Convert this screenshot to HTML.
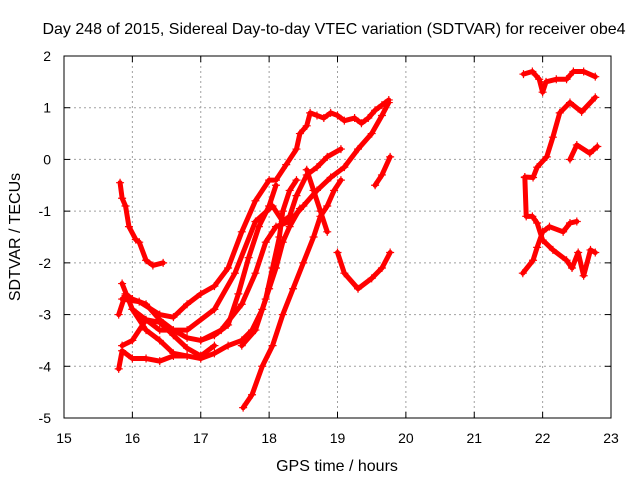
<!DOCTYPE html>
<html><head><meta charset="utf-8"><style>
body{margin:0;background:#fff;}
svg text{font-family:"Liberation Sans",sans-serif;font-size:14px;fill:#000;}
svg text.big{font-size:16px;}
</style></head><body>
<svg id="chart" width="640" height="480">
<rect width="640" height="480" fill="#fff"/>
<text class="big" x="334" y="34" text-anchor="middle">Day 248 of 2015, Sidereal Day-to-day VTEC variation (SDTVAR) for receiver obe4</text>
<text class="big" x="337" y="471" text-anchor="middle">GPS time / hours</text>
<text class="big" transform="translate(20,237) rotate(-90)" text-anchor="middle">SDTVAR / TECUs</text>
<g id="grid"></g><g id="ticks"></g><g id="marks"></g>
<rect x="64" y="56" width="547" height="362" fill="none" stroke="#000" stroke-width="1"/>
</svg>
<script>
const xTicks=[15,16,17,18,19,20,21,22,23];
const yTicks=[2,1,0,-1,-2,-3,-4,-5];
const t1=[[15.82,-0.45],[15.85,-0.75],[15.9,-0.9],[15.95,-1.3],[16.05,-1.55],[16.1,-1.6],[16.2,-1.95],[16.3,-2.05],[16.45,-2.0]];
const t2=[[15.8,-4.05],[15.85,-3.7],[16.0,-3.85],[16.2,-3.85],[16.4,-3.9],[16.6,-3.8],[16.8,-3.8],[17.0,-3.85],[17.2,-3.75],[17.4,-3.6],[17.6,-3.5],[17.75,-3.3],[17.9,-2.9],[18.0,-2.5],[18.1,-2.1],[18.2,-1.6],[18.3,-1.3],[18.45,-0.95]];
const u1=[[15.85,-2.7],[16.1,-2.75],[16.4,-3.0],[16.6,-3.05],[16.8,-2.8],[17.0,-2.6],[17.2,-2.45],[17.4,-2.1],[17.6,-1.4],[17.8,-0.8],[18.0,-0.4],[18.1,-0.4],[18.25,-0.1],[18.4,0.2],[18.45,0.5],[18.55,0.65],[18.6,0.9],[18.7,0.85],[18.8,0.8],[18.9,0.9],[19.0,0.85],[19.1,0.75],[19.25,0.8],[19.35,0.7],[19.45,0.8],[19.55,0.95],[19.65,1.05],[19.75,1.15]];
const u2=[[16.0,-2.9],[16.4,-3.3],[16.8,-3.3],[17.2,-2.9],[17.5,-2.2],[17.8,-1.2],[18.05,-0.9],[18.2,-1.2],[18.3,-1.1],[18.4,-0.7],[18.55,-0.3],[18.7,-0.15],[18.85,0.05],[19.05,0.2]];
const u3=[[17.0,-3.5],[17.3,-3.3],[17.6,-2.8],[17.8,-2.2],[17.95,-1.6],[18.1,-1.3],[18.3,-1.2],[18.5,-0.9],[18.7,-0.6],[18.9,-0.35],[19.1,-0.15],[19.3,0.2],[19.5,0.5],[19.65,0.85],[19.75,1.1]];
const s1=[[17.62,-4.8],[17.75,-4.55],[17.9,-4.0],[18.05,-3.6],[18.2,-3.0],[18.35,-2.5],[18.5,-2.0],[18.65,-1.5],[18.75,-1.1],[18.85,-0.9],[18.95,-0.6],[19.05,-0.4]];
const s2=[[17.6,-3.6],[17.8,-3.3],[17.95,-2.7],[18.05,-2.1],[18.15,-1.5],[18.2,-1.0],[18.3,-0.6],[18.4,-0.4]];
const d1=[[18.55,-0.2],[18.65,-0.6],[18.75,-1.0],[18.85,-1.4]];
const p1=[[19.0,-1.8],[19.1,-2.2],[19.3,-2.5],[19.5,-2.3],[19.65,-2.1],[19.77,-1.8]];
const p2=[[19.55,-0.5],[19.65,-0.3],[19.77,0.05]];
const l1=[[15.8,-3.0],[15.9,-2.6],[16.0,-2.7],[16.2,-2.8],[16.4,-3.1],[16.6,-3.3],[16.8,-3.45],[17.0,-3.5],[17.2,-3.4],[17.4,-3.2],[17.55,-2.6],[17.7,-1.9],[17.85,-1.3],[18.0,-0.9],[18.1,-0.5]];
const l2=[[15.85,-3.6],[16.0,-3.5],[16.2,-3.1],[16.4,-3.15],[16.6,-3.4],[16.8,-3.65],[17.0,-3.8],[17.2,-3.6]];
const l3=[[15.85,-2.4],[16.0,-2.9],[16.2,-3.3],[16.4,-3.5],[16.6,-3.75],[16.8,-3.8]];
const r1=[[21.72,1.65],[21.85,1.7],[21.95,1.55],[22.0,1.3],[22.05,1.5],[22.2,1.55],[22.35,1.55],[22.45,1.7],[22.6,1.7],[22.77,1.6]];
const r2=[[21.71,-2.2],[21.86,-1.95],[21.92,-1.7],[22.0,-1.4],[22.1,-1.3],[22.3,-1.4],[22.4,-1.23],[22.5,-1.2]];
const r3=[[21.74,-0.34],[21.86,-0.35],[21.92,-0.15],[22.06,0.05],[22.15,0.43],[22.25,0.9],[22.4,1.1],[22.57,0.92],[22.77,1.2]];
const r4=[[22.4,0.0],[22.5,0.28],[22.69,0.12],[22.8,0.25]];
const r5=[[21.74,-0.35],[21.76,-1.1],[21.85,-1.1],[21.92,-1.23],[22.0,-1.56],[22.15,-1.75],[22.35,-1.95],[22.43,-2.1],[22.52,-1.8],[22.6,-2.25],[22.7,-1.75],[22.77,-1.8]];
const series=[t1,t2,u1,u2,u3,s1,s2,d1,p1,p2,l1,l2,l3,r1,r2,r3,r4,r5];
const NS='http://www.w3.org/2000/svg';
const X=h=>64+(h-15)*(547/8);
const Y=v=>56+(2-v)*(362/7);
function mk(tag,attrs,parent){const e=document.createElementNS(NS,tag);for(const k in attrs)e.setAttribute(k,attrs[k]);parent.appendChild(e);return e;}
const grid=document.getElementById('grid'),ticks=document.getElementById('ticks'),marks=document.getElementById('marks');
xTicks.forEach(t=>{const x=X(t);
 if(t>15&&t<23){const g=mk('line',{x1:x,x2:x,y1:56,y2:418,stroke:'#a0a0a0','stroke-dasharray':'2,3'},grid);
 
 }
 mk('line',{x1:x,x2:x,y1:418,y2:412,stroke:'#000'},ticks);mk('line',{x1:x,x2:x,y1:56,y2:62,stroke:'#000'},ticks);
 const tx=mk('text',{x:x,y:443,'text-anchor':'middle'},ticks);tx.textContent=t;
 
 });
yTicks.forEach(t=>{const y=Y(t);
 if(t<2&&t>-5){const g=mk('line',{x1:64,x2:611,y1:y,y2:y,stroke:'#a0a0a0','stroke-dasharray':'2,3'},grid);
 
 }
 mk('line',{x1:64,x2:70,y1:y,y2:y,stroke:'#000'},ticks);mk('line',{x1:611,x2:605,y1:y,y2:y,stroke:'#000'},ticks);
 const tx=mk('text',{x:51,y:y+5,'text-anchor':'end'},ticks);tx.textContent=t;
 
 });
series.forEach((s,i)=>{
 const pl=mk('polyline',{points:s.map(p=>X(p[0])+','+Y(p[1])).join(' '),fill:'none',stroke:'#f00','stroke-width':5,'stroke-linejoin':'round','stroke-linecap':'round'},marks);
 
 
 s.forEach(p=>{const x=X(p[0]),y=Y(p[1]);
  const m=mk('path',{d:`M${x-4},${y}H${x+4}M${x},${y-4}V${y+4}`,stroke:'#f00','stroke-width':1.2},marks);
  
  });
});
</script>
</body></html>
